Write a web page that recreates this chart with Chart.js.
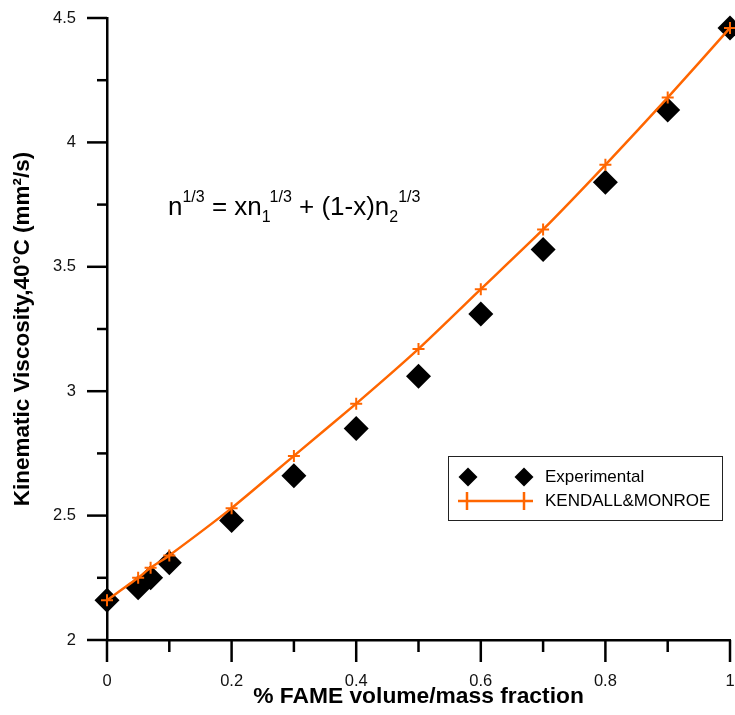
<!DOCTYPE html>
<html>
<head>
<meta charset="utf-8">
<script src="https://cdn.jsdelivr.net/npm/chart.js@4.4.1/dist/chart.umd.min.js"></script>
<style>
  body { margin: 0; background: #fff; }
  #wrap { position: relative; width: 735px; height: 715px; }
  #formula {
    position: absolute; left: 168px; top: 193px;
    font: 26px/26px "Liberation Sans", Arial, sans-serif; color: #000;
    white-space: nowrap;
  }
  #formula .sup, #formula .sub { font-size: 16px; line-height: 0; position: relative; }
  #formula .sup { top: -13px; }
  #formula .sub { top: 7px; }
</style>
</head>
<body>
<div id="wrap">
  <canvas id="viscChart" width="735" height="715"></canvas>
  <div id="formula">n<span class="sup">1/3</span> = xn<span class="sub">1</span><span class="sup">1/3</span> + (1-x)n<span class="sub">2</span><span class="sup">1/3</span></div>
</div>
<script>
// FAME fraction vs. kinematic viscosity at 40 °C
const fractions = [0, 0.05, 0.07, 0.1, 0.2, 0.3, 0.4, 0.5, 0.6, 0.7, 0.8, 0.9, 1];
const viscExperimental = [2.16, 2.21, 2.25, 2.31, 2.48, 2.66, 2.85, 3.06, 3.31, 3.57, 3.84, 4.13, 4.46];
const viscKendallMonroe = [2.16, 2.25, 2.29, 2.34, 2.53, 2.74, 2.95, 3.17, 3.41, 3.65, 3.91, 4.18, 4.46];

const xMajorTicks = [0, 0.2, 0.4, 0.6, 0.8, 1];
const xMinorTicks = [0.1, 0.3, 0.5, 0.7, 0.9];
const yMajorTicks = [2, 2.5, 3, 3.5, 4, 4.5];
const yMinorTicks = [2.25, 2.75, 3.25, 3.75, 4.25];

const FONT = '"Liberation Sans", Arial, sans-serif';
const ORANGE = '#ff6600';

// major/minor tick marks, drawn outside the plot area
const axisTicks = {
    id: 'axisTicks',
    afterDraw(chart) {
        const { ctx, chartArea, scales: { x, y } } = chart;
        ctx.save();
        ctx.strokeStyle = '#000';
        ctx.lineWidth = 2.5;
        const vTick = (v, len) => {
            const px = x.getPixelForValue(v);
            ctx.beginPath();
            ctx.moveTo(px, chartArea.bottom);
            ctx.lineTo(px, chartArea.bottom + len);
            ctx.stroke();
        };
        const hTick = (v, len) => {
            const py = y.getPixelForValue(v);
            ctx.beginPath();
            ctx.moveTo(chartArea.left, py);
            ctx.lineTo(chartArea.left - len, py);
            ctx.stroke();
        };
        xMajorTicks.forEach(v => vTick(v, 22));
        xMinorTicks.forEach(v => vTick(v, 12));
        yMajorTicks.forEach(v => hTick(v, 20));
        yMinorTicks.forEach(v => hTick(v, 10));
        ctx.restore();
    }
};

// boxed legend: two markers per entry, like the plotting package draws it
const boxLegend = {
    id: 'boxLegend',
    afterDraw(chart) {
        const ctx = chart.ctx;
        const bx = 448.5, by = 456.5, bw = 274, bh = 64;
        ctx.save();
        ctx.fillStyle = '#fff';
        ctx.fillRect(bx, by, bw, bh);
        ctx.strokeStyle = '#222';
        ctx.lineWidth = 1;
        ctx.strokeRect(bx, by, bw, bh);

        const diamond = (cx, cy, r) => {
            ctx.beginPath();
            ctx.moveTo(cx - r, cy);
            ctx.lineTo(cx, cy - r);
            ctx.lineTo(cx + r, cy);
            ctx.lineTo(cx, cy + r);
            ctx.closePath();
            ctx.fill();
        };
        ctx.fillStyle = '#000';
        diamond(468, 477, 9.5);
        diamond(524, 477, 9.5);

        ctx.strokeStyle = ORANGE;
        ctx.lineWidth = 2.5;
        ctx.beginPath();
        ctx.moveTo(458, 501);
        ctx.lineTo(533, 501);
        ctx.moveTo(467, 492);
        ctx.lineTo(467, 510);
        ctx.moveTo(524, 492);
        ctx.lineTo(524, 510);
        ctx.stroke();

        ctx.fillStyle = '#000';
        ctx.font = '17px ' + FONT;
        ctx.textBaseline = 'middle';
        ctx.textAlign = 'left';
        ctx.fillText('Experimental', 545, 477);
        ctx.fillText('KENDALL&MONROE', 545, 501);
        ctx.restore();
    }
};

const toPoints = (xs, ys) => xs.map((x, i) => ({ x, y: ys[i] }));

new Chart(document.getElementById('viscChart'), {
    type: 'scatter',
    data: {
        datasets: [
            {
                label: 'Experimental',
                data: toPoints(fractions, viscExperimental),
                pointStyle: 'rectRot',
                pointRadius: 12.5,
                backgroundColor: '#000',
                borderColor: '#000',
                borderWidth: 0,
                clip: false,
                order: 1
            },
            {
                label: 'KENDALL&MONROE',
                data: toPoints(fractions, viscKendallMonroe),
                showLine: true,
                borderColor: ORANGE,
                borderWidth: 2.5,
                pointStyle: 'cross',
                pointRadius: 6,
                pointBorderWidth: 2,
                pointBorderColor: ORANGE,
                tension: 0.2,
                clip: false,
                order: 0
            }
        ]
    },
    options: {
        responsive: false,
        animation: false,
        layout: {
            autoPadding: false,   // big markers must not shrink the plot area
            padding: { top: 18, right: 5, left: 0, bottom: 0 }
        },
        plugins: {
            legend: { display: false },
            tooltip: { enabled: false }
        },
        scales: {
            x: {
                type: 'linear',
                min: 0,
                max: 1,
                afterFit: s => {
                    s.height = 75;
                    s.paddingLeft = 0;
                    s.paddingRight = 0;
                },
                afterBuildTicks: s => { s.ticks = xMajorTicks.map(v => ({ value: v })); },
                border: { color: '#000', width: 2.5 },
                grid: { drawOnChartArea: false, color: 'rgba(0,0,0,0)', tickLength: 22 },
                ticks: {
                    padding: 10,
                    color: '#111',
                    font: { family: FONT, size: 16.5 },
                    maxRotation: 0,
                    autoSkip: false,
                    callback: v => String(Math.round(v * 10) / 10)
                },
                title: {
                    display: true,
                    text: '% FAME volume/mass fraction',
                    color: '#000',
                    font: { family: FONT, size: 22.8, weight: 'bold' },
                    padding: { top: 0, bottom: 5 }
                }
            },
            y: {
                type: 'linear',
                min: 2,
                max: 4.5,
                afterFit: s => {
                    s.width = 107;
                    s.paddingTop = 0;
                    s.paddingBottom = 0;
                },
                afterBuildTicks: s => { s.ticks = yMajorTicks.map(v => ({ value: v })); },
                border: { color: '#000', width: 2.5 },
                grid: { drawOnChartArea: false, color: 'rgba(0,0,0,0)', tickLength: 20 },
                ticks: {
                    padding: 11,
                    color: '#111',
                    font: { family: FONT, size: 16.5 },
                    autoSkip: false,
                    callback: v => String(Math.round(v * 10) / 10)
                },
                title: {
                    display: true,
                    text: 'Kinematic Viscosity,40\u00B0C (mm\u00B2/s)',
                    color: '#000',
                    font: { family: FONT, size: 22.5, weight: 'bold' },
                    padding: { top: 9, bottom: 0 }
                }
            }
        }
    },
    plugins: [axisTicks, boxLegend]
});
</script>
</body>
</html>
